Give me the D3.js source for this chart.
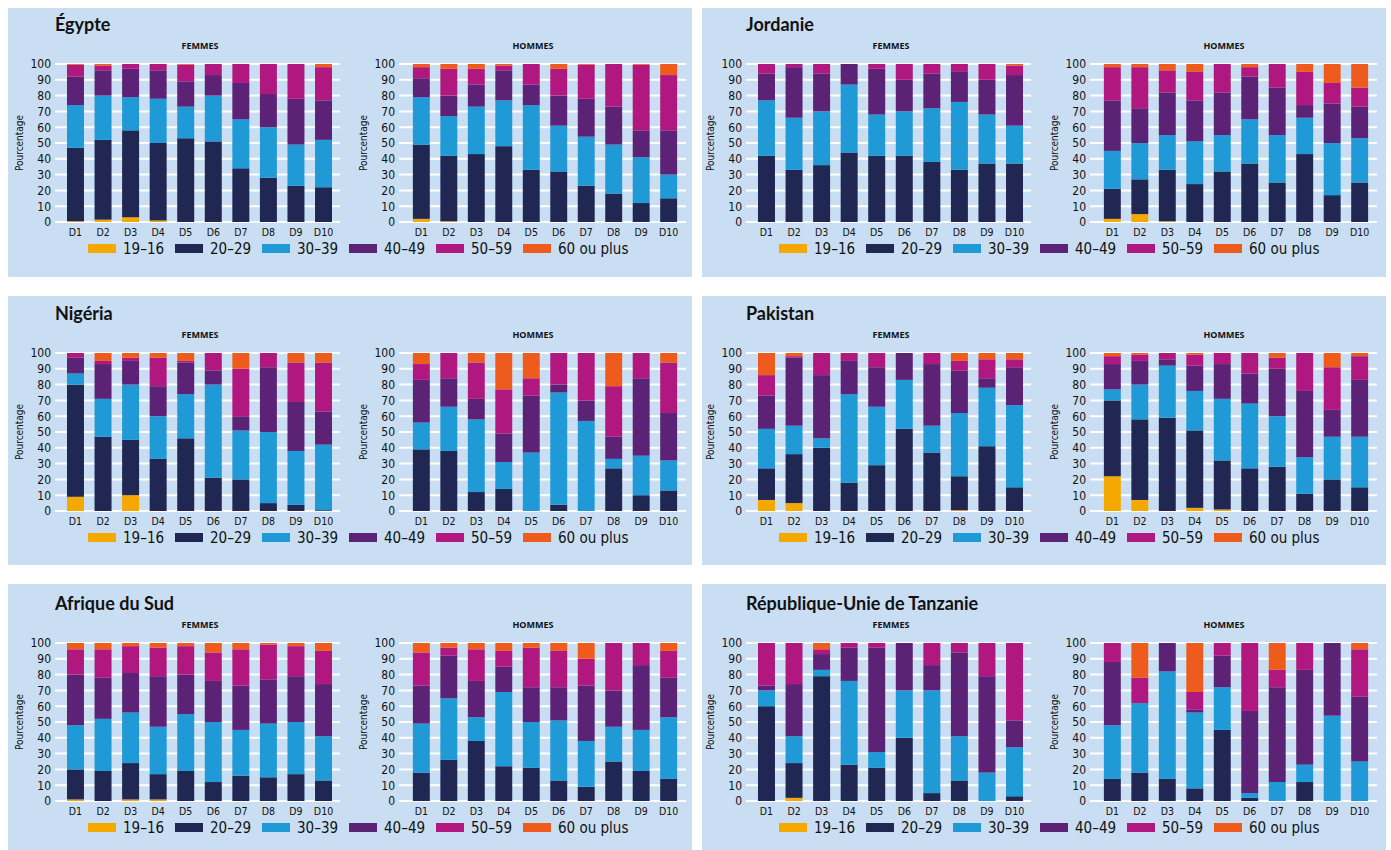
<!DOCTYPE html>
<html lang="fr">
<head>
<meta charset="utf-8">
<script src="https://cdn.jsdelivr.net/npm/d3@7"></script>
<style>
  html, body { margin: 0; padding: 0; background: #ffffff; }
  svg { display: block; }
  .title { font-family: "Lato", "Open Sans", sans-serif; font-weight: 700; font-size: 18px; fill: #111; }
  .sub { font-family: "Open Sans", sans-serif; font-weight: 700; font-size: 9px; fill: #111; }
  .tick { font-family: "Liberation Sans Narrow", "DejaVu Sans Condensed", sans-serif; font-size: 12px; fill: #111; }
  .xlab { font-family: "Liberation Sans Narrow", "DejaVu Sans Condensed", sans-serif; font-size: 10.5px; fill: #111; }
  .ytitle { font-family: "Liberation Sans Narrow", "DejaVu Sans Condensed", sans-serif; font-size: 10px; fill: #111; }
  .leg { font-family: "Liberation Sans Narrow", "DejaVu Sans Condensed", sans-serif; font-size: 15px; fill: #111; }
</style>
</head>
<body>
<svg id="chart" width="1391" height="850"></svg>
<script>
// Categories
const countries = ["Égypte", "Jordanie", "Nigéria", "Pakistan", "Afrique du Sud", "République-Unie de Tanzanie"];
const deciles = ["D1", "D2", "D3", "D4", "D5", "D6", "D7", "D8", "D9", "D10"];
const ageGroups = ["19–16", "20–29", "30–39", "40–49", "50–59", "60 ou plus"];
const sexes = ["FEMMES", "HOMMES"];
const yTicks = [0, 10, 20, 30, 40, 50, 60, 70, 80, 90, 100];
const ageColors = ["#f5a800", "#1f2752", "#1f9ad6", "#5b2276", "#b0177f", "#ee5b1c"];

// Shares (%) by age group, one row per decile D1..D10
const egypteFemmes = [
  [0.5, 46.5, 27, 18, 7.5, 0.5], [1.5, 50.5, 28, 16, 3, 1], [3, 55, 21, 18, 3, 0], [1, 49, 28, 18, 4, 0],
  [0, 53, 20, 16, 10.5, 0.5], [0, 51, 29, 13, 7, 0], [0, 34, 31, 23, 12, 0], [0, 28, 32, 21, 19, 0],
  [0, 23, 26, 29, 22, 0], [0, 22, 30, 25, 21, 2]
];
const egypteHommes = [
  [2, 47, 30, 12, 7, 2], [0.5, 41.5, 25, 13, 17, 3], [0, 43, 30, 14, 10, 3], [0, 48, 29, 19, 3, 1],
  [0, 33, 41, 13, 13, 0], [0, 32, 29, 19, 17, 3], [0, 23, 31, 24, 21.5, 0.5], [0, 18, 31, 24, 27, 0],
  [0, 12, 29, 17, 41.5, 0.5], [0, 15, 15, 28, 35, 7]
];
const jordanieFemmes = [
  [0, 42, 35, 17, 6, 0], [0, 33, 33, 32, 2, 0], [0, 36, 34, 24, 6, 0], [0, 44, 43, 13, 0, 0],
  [0, 42, 26, 29, 3, 0], [0, 42, 28, 20, 10, 0], [0, 38, 34, 22, 6, 0], [0, 33, 43, 19, 5, 0],
  [0, 37, 31, 22, 10, 0], [0, 37, 24, 32, 6, 1]
];
const jordanieHommes = [
  [2, 19, 24, 32, 21, 2], [5, 22, 23, 22, 26, 2], [0.5, 32.5, 22, 27, 14, 4], [0, 24, 27, 26, 18, 5],
  [0, 32, 23, 27, 18, 0], [0, 37, 28, 27, 6, 2], [0, 25, 30, 30, 15, 0], [0, 43, 23, 8, 21, 5],
  [0, 17, 33, 25, 13, 12], [0, 25, 28, 20, 12, 15]
];
const nigeriaFemmes = [
  [9, 71, 7, 10, 3, 0], [0, 47, 24, 22, 2, 5], [10, 35, 35, 15, 2, 3], [0, 33, 27, 19, 18, 3],
  [0, 46, 28, 20, 1, 5], [0, 21, 59, 9, 11, 0], [0, 20, 31, 9, 30, 10], [0, 5, 45, 41, 9, 0],
  [0, 4, 34, 31, 25, 6], [0, 0.5, 41.5, 21, 31, 6]
];
const nigeriaHommes = [
  [0, 39, 17, 27, 10, 7], [0, 38, 28, 18, 16, 0], [0, 12, 46, 13, 23, 6], [0, 14, 17, 18, 28, 23],
  [0, 0, 37, 36, 11, 16], [0, 4, 71, 5, 20, 0], [0, 0, 57, 13, 30, 0], [0, 27, 6, 14, 32, 21],
  [0, 10, 25, 49, 16, 0], [0, 13, 19, 30, 32, 6]
];
const pakistanFemmes = [
  [7, 20, 25, 21, 13, 14], [5, 31, 18, 43, 1, 2], [0, 40, 6, 40, 14, 0], [0, 18, 56, 21, 5, 0],
  [0, 29, 37, 25, 9, 0], [0, 52, 31, 17, 0, 0], [0, 37, 17, 39, 7, 0], [0.5, 21.5, 40, 27, 6, 5],
  [0, 41, 37, 6, 12, 4], [0, 15, 52, 24, 5, 4]
];
const pakistanHommes = [
  [22, 48, 7, 16, 5, 2], [7, 51, 22, 15, 4, 1], [0, 59, 33, 4, 4, 0], [2, 49, 25, 16, 7, 1],
  [1, 31, 39, 22, 7, 0], [0, 27, 41, 19, 13, 0], [0, 28, 32, 30, 7, 3], [0, 11, 23, 42, 24, 0],
  [0, 20, 27, 17, 27, 9], [0, 15, 32, 36, 15, 2]
];
const afriqueSudFemmes = [
  [1, 19, 28, 32, 16, 4], [0, 19, 33, 26, 18, 4], [1, 23, 32, 25, 17, 2], [1, 16, 30, 32, 18, 3],
  [0, 19, 36, 25, 18, 2], [0, 12, 38, 26, 18, 6], [0, 16, 29, 28, 23, 4], [0, 15, 34, 28, 22, 1],
  [0, 17, 33, 29, 19, 2], [0, 13, 28, 33, 21, 5]
];
const afriqueSudHommes = [
  [0, 18, 31, 24, 21, 6], [0, 26, 39, 27, 5, 3], [0, 38, 15, 23, 20, 4], [0, 22, 47, 16, 10, 5],
  [0, 21, 29, 22, 25, 3], [0, 13, 38, 21, 23, 5], [0, 9, 29, 35, 17, 10], [0, 25, 22, 23, 30, 0],
  [0, 19, 26, 41, 14, 0], [0, 14, 39, 25, 17, 5]
];
const tanzanieFemmes = [
  [0, 60, 10, 3, 27, 0], [2, 22, 17, 33, 26, 0], [0, 79, 4, 10, 3, 4], [0, 23, 53, 21, 3, 0],
  [0, 21, 10, 66, 3, 0], [0, 40, 30, 30, 0, 0], [0, 5, 65, 16, 14, 0], [0, 13, 28, 53, 6, 0],
  [0, 0, 18, 61, 21, 0], [0, 3, 31, 17, 49, 0]
];
const tanzanieHommes = [
  [0, 14, 34, 40, 12, 0], [0, 18, 44, 0, 16, 22], [0, 14, 68, 18, 0, 0], [0, 8, 48, 2, 11, 31],
  [0, 45, 27, 20, 8, 0], [0, 2, 3, 52, 43, 0], [0, 0, 12, 60, 11, 17], [0, 12, 11, 60, 17, 0],
  [0, 0, 54, 46, 0, 0], [0, 0, 25, 41, 30, 4]
];

const seriesByCountry = [
  [egypteFemmes, egypteHommes],
  [jordanieFemmes, jordanieHommes],
  [nigeriaFemmes, nigeriaHommes],
  [pakistanFemmes, pakistanHommes],
  [afriqueSudFemmes, afriqueSudHommes],
  [tanzanieFemmes, tanzanieHommes]
];

// Layout
const svg = d3.select("#chart");
const panelX = [8, 702], panelW = 684;
const panelY = [8, 296, 584], panelH = [269, 269, 266];
const colDX = [0, 691];
const rowDY = [0, 289, 579];

// Sub-chart geometry, relative to the first panel
const sub = [
  { gridX: [55, 340], band: [61.7, 337.3], tickX: 51, titleX: 23, labelX: 200 },
  { gridX: [399, 686], band: [407.6, 682.4], tickX: 395, titleX: 367, labelX: 533 }
];
const yTop = 64, yBottom = 222;

const color = d3.scaleOrdinal().domain(ageGroups).range(ageColors);
const stack = d3.stack().keys(d3.range(ageGroups.length));

countries.forEach((country, ci) => {
  const col = ci % 2, row = Math.floor(ci / 2);
  svg.append("rect")
    .attr("x", panelX[col]).attr("y", panelY[row])
    .attr("width", panelW).attr("height", panelH[row])
    .attr("fill", "#c9def2");

  const g = svg.append("g").attr("transform", `translate(${colDX[col]},${rowDY[row]})`);

  g.append("text").attr("class", "title").attr("x", 55).attr("y", 31).text(country);

  const y = d3.scaleLinear().domain([0, 100]).range([yBottom, yTop]);

  sexes.forEach((sex, si) => {
    const s = sub[si];
    const data = seriesByCountry[ci][si];
    const x = d3.scaleBand().domain(deciles).range(s.band).paddingInner(0.384).paddingOuter(0.192);

    g.append("text").attr("class", "sub").attr("x", s.labelX).attr("y", 49)
      .attr("text-anchor", "middle").text(sex);

    // gridlines
    g.append("g").selectAll("line").data(yTicks).join("line")
      .attr("x1", s.gridX[0]).attr("x2", s.gridX[1])
      .attr("y1", d => y(d)).attr("y2", d => y(d))
      .attr("stroke", "#ffffff").attr("stroke-width", 2);

    // y tick labels
    g.append("g").selectAll("text").data(yTicks).join("text")
      .attr("class", "tick").attr("x", s.tickX).attr("y", d => y(d))
      .attr("dy", "0.36em").attr("text-anchor", "end").text(d => d);

    g.append("text").attr("class", "ytitle")
      .attr("transform", `translate(${s.titleX},${(yTop + yBottom) / 2}) rotate(-90)`)
      .attr("text-anchor", "middle").text("Pourcentage");

    // stacked bars
    const stacked = stack(data);
    g.append("g").selectAll("g").data(stacked).join("g")
      .attr("fill", (d, i) => ageColors[i])
      .selectAll("rect").data((d) => d.map((v, j) => ({ v, j }))).join("rect")
      .attr("x", d => x(deciles[d.j]))
      .attr("width", x.bandwidth())
      .attr("y", d => y(d.v[1]))
      .attr("height", d => Math.max(0, y(d.v[0]) - y(d.v[1])));

    // x labels
    g.append("g").selectAll("text").data(deciles).join("text")
      .attr("class", "xlab").attr("x", d => x(d) + x.bandwidth() / 2).attr("y", 236)
      .attr("text-anchor", "middle").text(d => d);
  });

  // legend
  const leg = g.append("g").selectAll("g").data(ageGroups).join("g")
    .attr("transform", (d, i) => `translate(${88 + i * 87},244)`);
  leg.append("rect").attr("width", 28).attr("height", 9).attr("fill", d => color(d));
  leg.append("text").attr("class", "leg").attr("x", 35).attr("y", 9.5).text(d => d);
});
</script>
</body>
</html>
